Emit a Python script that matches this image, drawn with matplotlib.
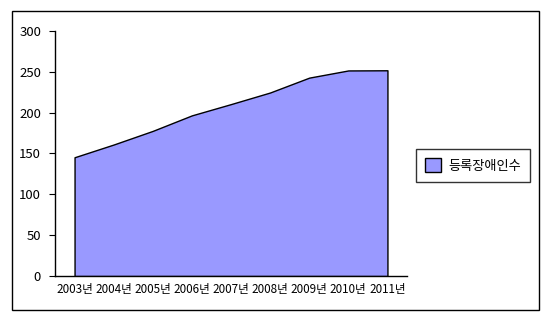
import matplotlib
matplotlib.use("Agg")
import matplotlib.pyplot as plt
from matplotlib.patches import Rectangle, Patch

plt.rcParams['font.family'] = ['Noto Sans CJK KR', 'DejaVu Sans']

years = ['2003년', '2004년', '2005년', '2006년', '2007년', '2008년', '2009년', '2010년', '2011년']
values = [145.4, 161.0, 177.7, 196.7, 210.5, 224.7, 242.9, 251.7, 251.9]
series_name = '등록장애인수'

W, H = 550, 322
fig = plt.figure(figsize=(W / 100, H / 100), dpi=100)
fig.patch.set_facecolor('white')

# outer border
fig.patches.append(Rectangle((12 / W, 1 - 310 / H), (539 - 12) / W, (310 - 11) / H,
                             transform=fig.transFigure, fill=False, edgecolor='black',
                             linewidth=1.0))

ax = fig.add_axes([55 / W, 1 - 276 / H, (407 - 55) / W, (276 - 31) / H])
x = list(range(len(years)))
ax.fill_between(x, 0, values, facecolor='#9999FF', edgecolor='black', linewidth=1.0)
ax.set_xlim(-0.5, len(years) - 0.5)
ax.set_ylim(0, 300)
ax.set_yticks(range(0, 301, 50))
ax.set_xticks(x)
ax.set_xticklabels(years)
ax.tick_params(axis='x', length=0, labelsize=8.4, pad=5)
ax.tick_params(axis='y', length=4, direction='out', labelsize=9.5, pad=6)
for s in ['top', 'right']:
    ax.spines[s].set_visible(False)
for s in ['left', 'bottom']:
    ax.spines[s].set_color('black')
    ax.spines[s].set_linewidth(1.0)

leg = fig.legend(handles=[Patch(facecolor='#9999FF', edgecolor='black', label=series_name)],
                 loc='center', bbox_to_anchor=(473 / W, 1 - 165.5 / H),
                 fontsize=9.5, frameon=True, fancybox=False, edgecolor='black',
                 handlelength=1.2, handleheight=1.2, borderpad=0.7, handletextpad=0.6)
leg.get_frame().set_linewidth(1.0)

fig.savefig('out.png', dpi=100)
